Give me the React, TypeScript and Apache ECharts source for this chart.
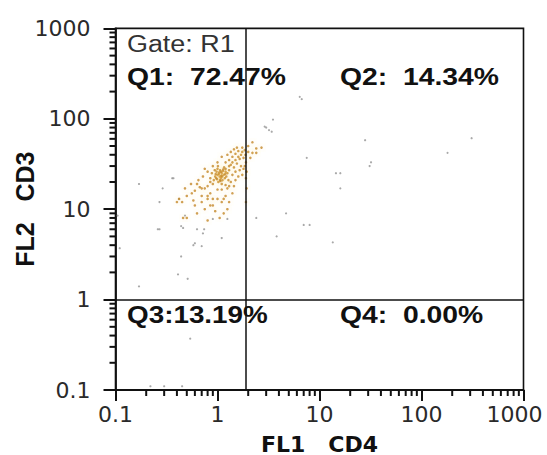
import React, { useEffect, useRef } from "react";
import * as echarts from "echarts";

const AXIS_TICKS = [0.1, 1, 10, 100, 1000];
const TICK_LABELS = ["0.1", "1", "10", "100", "1000"];
const MINOR_TICKS = [
  0.2, 0.3, 0.4, 0.5, 0.6, 0.7, 0.8, 0.9,
  2, 3, 4, 5, 6, 7, 8, 9,
  20, 30, 40, 50, 60, 70, 80, 90,
  200, 300, 400, 500, 600, 700, 800, 900,
];
const X_NAME = "FL1   CD4";
const Y_NAME = "FL2   CD3";
const GATE_X = 1.9;
const GATE_Y = 1;
const GATE_LABEL = "Gate: R1";
const Q_LABELS = ["Q1:  72.47%", "Q2:  14.34%", "Q3:13.19%", "Q4:  0.00%"];

// dense (orange) events
const CLUSTER: [number, number][] = [
  [1.0, 24], [1.05, 23], [1.1, 25], [1.08, 22], [0.98, 26], [1.12, 21], [1.15, 24], [1.02, 20],
  [0.95, 23], [1.2, 26], [1.06, 27], [0.92, 21], [1.18, 22], [1.0, 28], [1.1, 19], [1.25, 25],
  [0.88, 25], [1.03, 24.5], [1.13, 26.5], [0.97, 22], [1.07, 20.5], [1.22, 23], [0.9, 19], [1.3, 27],
  [1.16, 29], [1.01, 30], [0.85, 22], [1.28, 21], [1.09, 23.5], [0.94, 27],
  [1.04, 25.5], [1.11, 23], [0.99, 21.5], [1.14, 27.5], [1.06, 21], [1.19, 24.5], [0.96, 24.5], [1.08, 26],
  [1.35, 31], [1.4, 33], [1.5, 35], [1.45, 29], [1.6, 38], [1.55, 32], [1.7, 40], [1.65, 36],
  [1.75, 43], [1.8, 37], [1.85, 45], [1.6, 44], [1.5, 41], [1.4, 38], [1.3, 35], [1.25, 40],
  [1.1, 38], [1.2, 33], [1.7, 30], [1.8, 28], [1.9, 33], [1.88, 40], [1.75, 48], [1.55, 48],
  [1.45, 46], [1.35, 43], [1.65, 27], [1.5, 26], [1.4, 24], [1.75, 24], [1.6, 23], [1.85, 30],
  [2.0, 43], [2.2, 42], [2.1, 37], [2.4, 47], [2.2, 55], [2.7, 48], [2.4, 42], [2.0, 50],
  [1.93, 26], [1.9, 22], [1.93, 17], [1.9, 12],
  [0.85, 20], [0.8, 18], [0.75, 17], [0.7, 17], [0.72, 23], [0.67, 17.5], [0.6, 16], [0.63, 19],
  [0.8, 14], [0.9, 13], [0.85, 15], [1.0, 16.5], [1.1, 16.5], [1.2, 14], [1.15, 13], [1.25, 17],
  [1.3, 18], [1.0, 13], [0.9, 11], [0.85, 11], [1.1, 12], [0.8, 13], [0.7, 12], [0.56, 15],
  [0.5, 14], [0.45, 12], [0.4, 12], [0.63, 9], [0.75, 10], [1.25, 10], [1.05, 8], [0.8, 7.5],
  [1.15, 9], [0.95, 9.5], [0.7, 14], [0.58, 12.5], [0.65, 21], [0.55, 19], [0.48, 17], [0.42, 13],
  [0.5, 8], [0.46, 8], [0.6, 11], [1.3, 12], [1.4, 15], [1.35, 20], [1.45, 18], [1.5, 21],
  [1.2, 18.5], [1.2, 28], [0.9, 30], [1.0, 33], [1.3, 30], [0.8, 26], [0.75, 28],
];

// sparse (grey) events
const SPARSE: [number, number][] = [
  [6.4, 175], [6.7, 165], [3.0, 80], [3.2, 75], [3.5, 98], [3.4, 72], [2.9, 82], [28, 58],
  [310, 61], [180, 42], [32, 33], [31, 30], [7.5, 37], [14.5, 25], [16, 25], [16, 17],
  [4.7, 9], [2.4, 8], [7, 6.7], [8, 6.7], [3.8, 5], [13.5, 4.3], [0.17, 19], [0.36, 22],
  [0.27, 12], [0.26, 6], [0.44, 6.5], [0.42, 13], [0.48, 8.5], [0.44, 3], [0.41, 1.9], [0.51, 1.7],
  [0.17, 1.4], [0.11, 3.7], [0.105, 8.5], [0.6, 4.2], [0.7, 3.9], [1.1, 4.8], [0.54, 0.37], [0.22, 0.11],
  [1.25, 7.8], [0.9, 7.8], [0.74, 6], [0.29, 17], [0.37, 22], [0.27, 6], [0.46, 6.2], [0.63, 6],
  [0.72, 5.4], [0.58, 4], [0.3, 0.11], [0.45, 0.11],
];

const INK = "#111111";
const LABEL_FONT = "DejaVu Sans";
const TEXT_FONT = "Liberation Sans";

function tickLabel(v: number): string {
  const i = AXIS_TICKS.findIndex((t) => Math.abs(Math.log10(t) - Math.log10(v)) < 1e-6);
  return i >= 0 ? TICK_LABELS[i] : "";
}

export default function App() {
  const ref = useRef<HTMLDivElement>(null);
  useEffect(() => {
    if (!ref.current) return;
    const chart = echarts.init(ref.current, undefined, { renderer: "svg" });
    const axisCommon = {
      type: "log" as const,
      logBase: 10,
      min: AXIS_TICKS[0],
      max: AXIS_TICKS[AXIS_TICKS.length - 1],
      axisLine: { show: true, lineStyle: { color: INK, width: 1.8 } },
      splitLine: { show: false },
      nameLocation: "middle" as const,
      nameMoveOverlap: false,
    };
    const TL = 6;
    const minorSeries = (dir: "x" | "y") => ({
      type: "custom",
      clip: false,
      data: MINOR_TICKS.map((v) => (dir === "x" ? [v, AXIS_TICKS[0]] : [AXIS_TICKS[0], v])),
      renderItem: (_p: any, api: any) => {
        const p = api.coord([api.value(0), api.value(1)]);
        const shape =
          dir === "x"
            ? { x1: p[0], y1: p[1], x2: p[0], y2: p[1] + TL }
            : { x1: p[0], y1: p[1], x2: p[0] - TL, y2: p[1] };
        return { type: "line", shape, style: { stroke: INK, lineWidth: 2 } };
      },
    });
    const textEl = (text: string, x: number, y: number, size: number, weight: string, sx: number, fill: string) => ({
      type: "text",
      x,
      y,
      scaleX: sx,
      z: 10,
      style: {
        text,
        fontSize: size,
        fontFamily: TEXT_FONT,
        fontWeight: weight,
        fill,
        align: "left",
        verticalAlign: "middle",
      },
    });
    chart.setOption({
      animation: false,
      grid: {
        left: 115.5,
        right: 23.5,
        top: 28.4,
        bottom: 65,
        outerBoundsMode: "none",
        show: true,
        borderColor: INK,
        borderWidth: 1.6,
      },
      xAxis: {
        ...axisCommon,
        axisTick: { show: true, length: 11, lineStyle: { color: INK, width: 2 } },
        name: X_NAME,
        nameGap: 43,
        nameTextStyle: { fontFamily: LABEL_FONT, fontWeight: "bold", fontSize: 22, lineHeight: 22, color: INK },
        axisLabel: {
          margin: 13,
          fontFamily: LABEL_FONT,
          fontSize: 22,
          color: "#2a2a2a",
          formatter: (v: number) => {
            const s = tickLabel(v);
            return s === TICK_LABELS[TICK_LABELS.length - 1] ? `{r|${s}}` : s;
          },
          rich: {
            r: { fontFamily: LABEL_FONT, fontSize: 22, color: "#2a2a2a", padding: [0, 18, 0, 0] },
          },
        },
      },
      yAxis: {
        ...axisCommon,
        axisTick: { show: true, length: 12, lineStyle: { color: INK, width: 2 } },
        name: Y_NAME,
        nameGap: 78,
        nameTextStyle: { fontFamily: TEXT_FONT, fontWeight: "bold", fontSize: 25, color: INK },
        axisLabel: {
          margin: 25,
          fontFamily: LABEL_FONT,
          fontSize: 22,
          color: "#2a2a2a",
          formatter: (v: number) => tickLabel(v),
        },
      },
      series: [
        {
          name: "sparse",
          type: "scatter",
          symbolSize: 2.2,
          data: SPARSE,
          itemStyle: { color: "#8c8c8c", opacity: 0.75 },
          silent: true,
          markLine: {
            silent: true,
            symbol: "none",
            label: { show: false },
            lineStyle: { color: INK, width: 1.5, type: "solid" },
            data: [{ xAxis: GATE_X }, { yAxis: GATE_Y }],
          },
        },
        {
          name: "cluster",
          type: "scatter",
          symbolSize: 2.6,
          data: CLUSTER,
          silent: true,
          itemStyle: {
            color: "#c48a2a",
            shadowBlur: 6,
            shadowColor: "rgba(245, 200, 90, 0.55)",
          },
        },
        minorSeries("x"),
        minorSeries("y"),
      ],
      graphic: [
        textEl(GATE_LABEL, 127, 43.5, 23, "normal", 1.17, "#333333"),
        textEl(Q_LABELS[0], 127, 76.5, 24, "bold", 1.18, INK),
        textEl(Q_LABELS[1], 340, 76.5, 24, "bold", 1.18, INK),
        textEl(Q_LABELS[2], 127, 315, 24, "bold", 1.16, INK),
        textEl(Q_LABELS[3], 340, 315, 24, "bold", 1.18, INK),
      ],
    });
    return () => chart.dispose();
  }, []);
  return (
    <div
      ref={ref}
      style={{ position: "absolute", left: 0, top: 0, width: 547, height: 455, background: "#fff" }}
    />
  );
}
